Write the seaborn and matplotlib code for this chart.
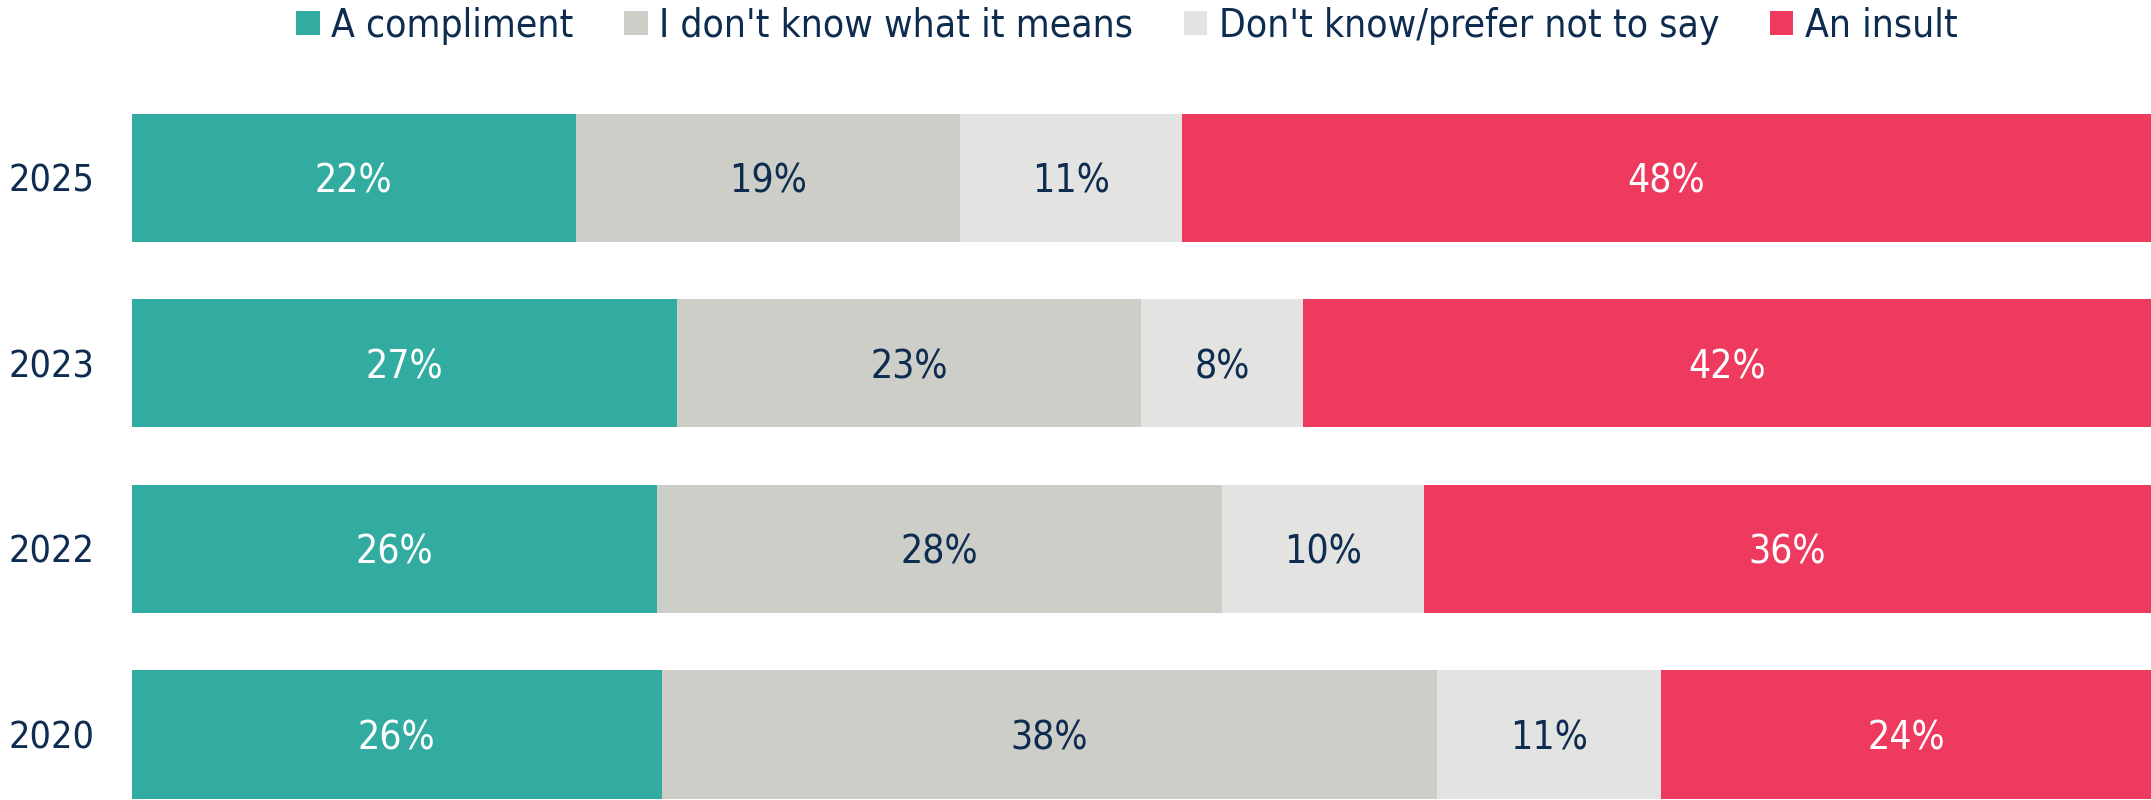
import numpy as np
import pandas as pd
import seaborn as sns
import matplotlib.pyplot as plt
from matplotlib import font_manager
from matplotlib.patches import Patch

years = ['2025', '2023', '2022', '2020']
categories = ['A compliment', "I don't know what it means", "Don't know/prefer not to say", 'An insult']
compliment = [22, 27, 26, 26]
dont_know_meaning = [19, 23, 28, 38]
prefer_not = [11, 8, 10, 11]
insult = [48, 42, 36, 24]

colors = ['#32ABA0', '#CECEC9', '#E3E3E1', '#EE3A5F']
label_colors = ['white', '#0E2C50', '#0E2C50', 'white']
navy = '#0E2C50'

sns.set_style('white')

# look for a narrow face, the reference uses a condensed sans
narrow = [f for f in font_manager.fontManager.ttflist
          if ('Narrow' in f.name or 'Condensed' in f.name or 'condensed' in str(f.stretch)
              or 'Condensed' in f.fname or 'Narrow' in f.fname)
          and 'Bold' not in f.fname and 'Oblique' not in f.fname and 'Italic' not in f.fname]
if narrow:
    fp = font_manager.FontProperties(fname=narrow[0].fname)
    fs = 28
else:
    fp = font_manager.FontProperties(family='DejaVu Sans')
    fs = 24
fp.set_size(fs)
fp_year = fp.copy()
fp_year.set_size(fs - 1)

df = pd.DataFrame({'year': years, categories[0]: compliment, categories[1]: dont_know_meaning,
                   categories[2]: prefer_not, categories[3]: insult})
vals = df[categories].to_numpy(dtype=float)
shares = vals / vals.sum(axis=1, keepdims=True) * 100
cum = np.cumsum(shares, axis=1)

fig = plt.figure(figsize=(21.51, 8), dpi=100)
ax = fig.add_axes([0.0612, 0, 0.9388, 0.894])

# stacked bars: draw from the widest cumulative down
for i in range(len(categories) - 1, -1, -1):
    d = pd.DataFrame({'year': years, 'x': cum[:, i]})
    sns.barplot(data=d, x='x', y='year', orient='h', color=colors[i], width=0.69,
                saturation=1, ax=ax, linewidth=0)

for r in range(len(years)):
    for i in range(len(categories)):
        left = cum[r, i] - shares[r, i]
        ax.text(left + shares[r, i] / 2, r, f'{int(vals[r, i])}%', ha='center',
                va='center_baseline', fontproperties=fp, color=label_colors[i])

ax.set_xlim(0, 100)
ax.set_ylim(3.353, -0.5)
ax.set_xlabel('')
ax.set_ylabel('')
ax.set_xticks([])
ax.tick_params(axis='y', length=0, labelcolor=navy, pad=27)
for t in ax.get_yticklabels():
    t.set_fontproperties(fp_year)
    t.set_verticalalignment('center_baseline')
sns.despine(ax=ax, left=True, bottom=True)

handles = [Patch(facecolor=c, edgecolor='none') for c in colors]
fig.legend(handles, categories, loc='center', bbox_to_anchor=(0.524, 0.968), ncol=4,
           frameon=False, prop=fp, labelcolor=navy, handlelength=0.6, handleheight=0.6,
           handletextpad=0.3, columnspacing=1.3)

fig.savefig('out.png', dpi=100)
